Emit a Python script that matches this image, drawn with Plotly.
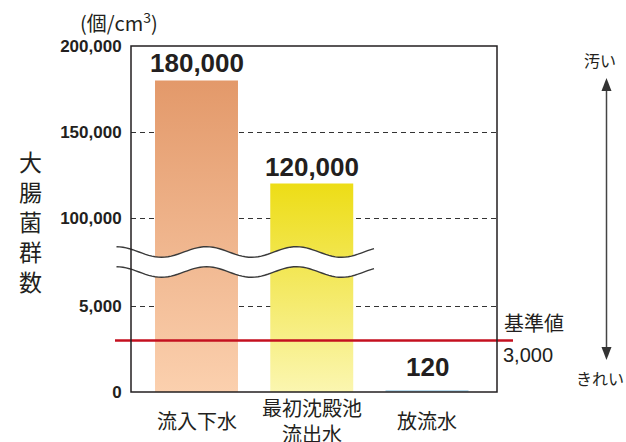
import math
import plotly.graph_objects as go

# ---------------- data ----------------
categories = ["流入下水", "最初沈殿池<br>流出水", "放流水"]
values = [180000, 120000, 120]
value_labels = ["180,000", "120,000", "120"]
standard_value = 3000
standard_label = "基準値"
standard_value_label = "3,000"
low_ticks = [0, 5000]
high_ticks = [100000, 150000, 200000]
y_title = "大腸菌群数"
unit_label = "(個/cm<sup>3</sup>)"
dirty_label = "汚い"
clean_label = "きれい"

# ---------------- styling ----------------
W, H = 626, 442
PX_L, PX_R, PX_T, PX_B = 131, 497, 46, 392
SPLIT_PX = 262
k_low = (392 - 306) / 5000.0
k_high = (392 - 306) / 50000.0
low_max = (PX_B - SPLIT_PX) / k_low
high_min = 200000 - (SPLIT_PX - PX_T) / k_high
d = (PX_B - SPLIT_PX) / (PX_B - PX_T)

cat_spacing = 115.25
first_center = 196.5
x_range = [-(first_center - PX_L) / cat_spacing, (PX_R - first_center) / cat_spacing]
bar_w = 0.72

bar_colors = [((251, 208, 174), (227, 153, 106)),
              ((251, 246, 176), (237, 221, 22)),
              ((186, 218, 235), (186, 218, 235))]

FONT = "Liberation Sans, Arial, Noto Sans CJK JP, sans-serif"
JFONT = "Noto Sans CJK JP, sans-serif"
TXT = "#231f20"


def xp(px):
    return (px - PX_L) / (PX_R - PX_L)


def yp(py):
    return (PX_B - py) / (PX_B - PX_T)


def val_to_px(v):
    if v <= low_max:
        return PX_B - v * k_low
    return PX_T + (200000 - v) * k_high


def mix(c0, c1, t):
    return "rgb(%d,%d,%d)" % tuple(round(a + (b - a) * t) for a, b in zip(c0, c1))


fig = go.Figure()

for i, v in enumerate(values):
    cb, ct = bar_colors[i]
    top_px = val_to_px(v)
    xs = [i - bar_w / 2, i + bar_w / 2, i + bar_w / 2, i - bar_w / 2, i - bar_w / 2]
    ys = [0, 0, v, v, 0]
    lo_stop = min(v, low_max)
    t_lo = (PX_B - val_to_px(lo_stop)) / (PX_B - top_px) if PX_B != top_px else 1
    fig.add_trace(go.Scatter(
        x=xs, y=ys, xaxis="x", yaxis="y", mode="lines", fill="toself",
        line=dict(width=0), hoverinfo="skip", showlegend=False,
        fillgradient=dict(type="vertical", start=0, stop=lo_stop,
                          colorscale=[[0, mix(cb, ct, 0)], [1, mix(cb, ct, t_lo)]]),
    ))
    if v > high_min:
        t_hi0 = (PX_B - SPLIT_PX) / (PX_B - top_px)
        fig.add_trace(go.Scatter(
            x=xs, y=ys, xaxis="x", yaxis="y2", mode="lines", fill="toself",
            line=dict(width=0), hoverinfo="skip", showlegend=False,
            fillgradient=dict(type="vertical", start=high_min, stop=v,
                              colorscale=[[0, mix(cb, ct, t_hi0)], [1, mix(cb, ct, 1)]]),
        ))

# value labels
for i, (v, lab) in enumerate(zip(values, value_labels)):
    on_high = v > high_min
    fig.add_annotation(
        x=i, y=v, xref="x", yref="y2" if on_high else "y",
        text=lab, showarrow=False, yanchor="bottom",
        yshift=0 if on_high else 6,
        font=dict(family=FONT, size=26, color=TXT, weight="bold"),
    )

# category labels
for i, c in enumerate(categories):
    fig.add_annotation(
        x=i, y=yp(420), xref="x", yref="paper", text=c, showarrow=False,
        yanchor="middle", font=dict(family=JFONT, size=20, color=TXT),
    )

# y-axis title (vertical stacked)
fig.add_annotation(
    x=xp(30), y=yp(221), xref="paper", yref="paper", text="<br>".join(y_title),
    showarrow=False, xanchor="center", yanchor="middle",
    font=dict(family=JFONT, size=23, color=TXT),
)

fig.add_annotation(x=xp(78), y=yp(22), xref="paper", yref="paper", text=unit_label,
                   showarrow=False, xanchor="left", yanchor="middle",
                   font=dict(family=JFONT, size=20, color=TXT))

fig.add_annotation(x=xp(502), y=yp(322), xref="paper", yref="paper", text=standard_label,
                   showarrow=False, xanchor="left", yanchor="middle",
                   font=dict(family=JFONT, size=20, color=TXT))
fig.add_annotation(x=xp(501), y=yp(355), xref="paper", yref="paper", text=standard_value_label,
                   showarrow=False, xanchor="left", yanchor="middle",
                   font=dict(family=FONT, size=20, color=TXT))
fig.add_annotation(x=xp(600), y=yp(60), xref="paper", yref="paper", text=dirty_label,
                   showarrow=False, xanchor="center", yanchor="middle",
                   font=dict(family=JFONT, size=16, color=TXT))
fig.add_annotation(x=xp(600), y=yp(378), xref="paper", yref="paper", text=clean_label,
                   showarrow=False, xanchor="center", yanchor="middle",
                   font=dict(family=JFONT, size=16, color=TXT))

shapes = []

# break (wavy) region
A, PERIOD, X0W, X1W = 5.3, 90.0, 116.5, 374.0
YC1, YC2 = 252.0, 272.0


def wave_pts(yc, reverse=False):
    n = 80
    pts = []
    for s in range(n + 1):
        x = X0W + (X1W - X0W) * s / n
        y = yc - A * math.cos(2 * math.pi * (x - X0W) / PERIOD)
        pts.append((xp(x), yp(y)))
    return pts[::-1] if reverse else pts


def path_from(pts, close=False):
    p = "M " + " L ".join("%.5f,%.5f" % pt for pt in pts)
    return p + (" Z" if close else "")


shapes.append(dict(type="path", xref="paper", yref="paper", layer="above",
                   path=path_from(wave_pts(YC1) + wave_pts(YC2, True), close=True),
                   fillcolor="white", line=dict(width=0)))
for yc in (YC1, YC2):
    shapes.append(dict(type="path", xref="paper", yref="paper", layer="above",
                       path=path_from(wave_pts(yc)), line=dict(color="#3a3a3a", width=1.4)))

# standard line
shapes.append(dict(type="line", xref="paper", yref="y", layer="above",
                   x0=xp(115), x1=xp(513), y0=standard_value, y1=standard_value,
                   line=dict(color="#c4101f", width=2.5)))

# frame
shapes.append(dict(type="rect", xref="paper", yref="paper", layer="above",
                   x0=0, x1=1, y0=0, y1=1, line=dict(color="#231f20", width=1.5)))

# arrow
AX = 606.5
shapes.append(dict(type="line", xref="paper", yref="paper", layer="above",
                   x0=xp(AX), x1=xp(AX), y0=yp(88), y1=yp(350),
                   line=dict(color="#444444", width=1.5)))
for tip, base in ((78, 91), (360, 347)):
    shapes.append(dict(type="path", xref="paper", yref="paper", layer="above",
                       path="M %.5f,%.5f L %.5f,%.5f L %.5f,%.5f Z" % (
                           xp(AX), yp(tip), xp(AX - 5), yp(base), xp(AX + 5), yp(base)),
                       fillcolor="#333333", line=dict(width=0)))

tickfont = dict(family=FONT, size=17, color=TXT, weight="bold")
common_y = dict(showline=False, zeroline=False, showgrid=True, gridcolor="#333333",
                gridwidth=1, griddash="5px,4px", ticks="outside", ticklen=5,
                tickcolor="rgba(0,0,0,0)", tickfont=tickfont, anchor="x", fixedrange=True)

fig.update_layout(
    width=W, height=H,
    margin=dict(l=PX_L, r=W - PX_R, t=PX_T, b=H - PX_B),
    paper_bgcolor="white", plot_bgcolor="white",
    showlegend=False,
    xaxis=dict(range=x_range, showticklabels=False, showgrid=False, zeroline=False,
               showline=False, ticks="", fixedrange=True),
    yaxis=dict(domain=[0, d], range=[0, low_max], tickvals=low_ticks,
               ticktext=["{:,}".format(t) for t in low_ticks], **common_y),
    yaxis2=dict(domain=[d, 1], range=[high_min, 200000], tickvals=high_ticks,
                ticktext=["{:,}".format(t) for t in high_ticks], **common_y),
    shapes=shapes,
)

fig.write_html(
    "out.html",
    config={"displayModeBar": False},
    post_script="document.body.style.margin='0';document.body.style.overflow='hidden';",
)
